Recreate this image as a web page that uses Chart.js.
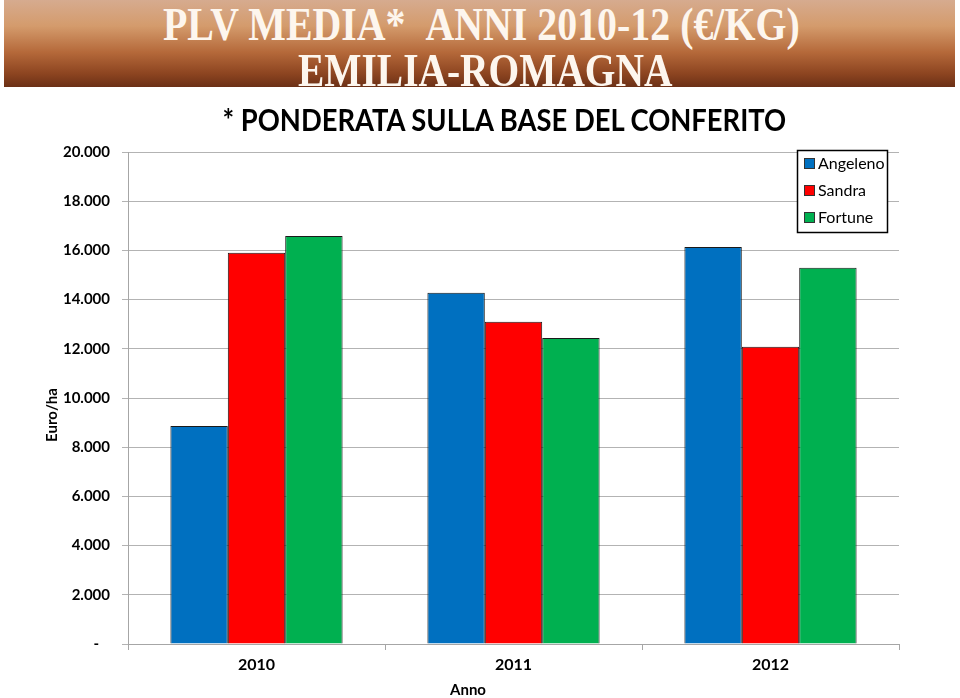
<!DOCTYPE html>
<html>
<head>
<meta charset="utf-8">
<script src="https://cdn.jsdelivr.net/npm/chart.js@4"></script>
<style>
  html, body { margin: 0; padding: 0; background: #fff; }
  #wrap { position: relative; width: 960px; height: 698px; overflow: hidden; }
  #plv-chart { position: absolute; left: 0; top: 0; }
  #banner {
    position: absolute; left: 4px; top: 0; width: 951px; height: 87px;
    background: linear-gradient(to bottom, #d6ab8f 0%, #d49b6c 30%, #b5693a 60%, #8c4420 85%, #6b3016 100%);
  }
  .fit { position: absolute; white-space: nowrap; transform-origin: center center; }
  .banner-line {
    font-family: "Liberation Serif", "DejaVu Serif", serif; font-weight: bold;
    font-size: 47px; color: #fdf6ee; line-height: 47px;
  }
  #subtitle {
    font-family: Lato, "Open Sans", sans-serif; font-weight: bold;
    font-size: 31px; color: #000; line-height: 32px;
  }
</style>
</head>
<body>
<div id="wrap">
  <canvas id="plv-chart" width="960" height="698"></canvas>
  <div id="banner"></div>
  <div class="fit banner-line" id="line1" data-cx="481" data-cy="24" data-w="637">PLV MEDIA*&nbsp;&nbsp;ANNI 2010-12 (€/KG)</div>
  <div class="fit banner-line" id="line2" data-cx="485" data-cy="70" data-w="374">EMILIA-ROMAGNA</div>
  <div class="fit" id="subtitle" data-cx="504" data-cy="119" data-w="564">* PONDERATA SULLA BASE DEL CONFERITO</div>
</div>
<script>
// Data
const years = ["2010", "2011", "2012"];
const seriesNames = ["Angeleno", "Sandra", "Fortune"];
const angeleno = [8860, 14280, 16140];
const sandra = [15900, 13100, 12080];
const fortune = [16590, 12440, 15290];
const seriesColors = ["#0070C0", "#FF0000", "#00B050"];
const xTitle = "Anno";
const yTitle = "Euro/ha";

const FONT = "Lato, 'Open Sans', sans-serif";

// Fit the banner texts to their width
document.querySelectorAll(".fit").forEach(el => {
    const w = el.offsetWidth, h = el.offsetHeight;
    const sx = Number(el.dataset.w) / w;
    el.style.left = (Number(el.dataset.cx) - w / 2) + "px";
    el.style.top = (Number(el.dataset.cy) - h / 2) + "px";
    el.style.transform = "scaleX(" + sx + ")";
});

// format like 20.000, zero as "-"
function formatTick(value) {
    if (value === 0) return "-   ";
    return String(value).replace(/\B(?=(\d{3})+(?!\d))/g, ".");
}

// Legend drawn inside the plot area, with a frame
const boxLegend = {
    id: "boxLegend",
    afterDraw(chart) {
        const ctx = chart.ctx;
        const x = 797, y = 150, w = 90, h = 82;
        ctx.save();
        ctx.fillStyle = "#fff";
        ctx.fillRect(x, y, w, h);
        ctx.strokeStyle = "#000";
        ctx.lineWidth = 1.5;
        ctx.strokeRect(x + 0.5, y + 0.5, w, h);
        ctx.font = "16px " + FONT;
        ctx.textBaseline = "middle";
        chart.data.datasets.forEach((ds, i) => {
            const cy = 164 + i * 27;
            ctx.fillStyle = ds.backgroundColor;
            ctx.fillRect(804, cy - 6, 11, 11);
            ctx.strokeStyle = "#333";
            ctx.lineWidth = 1;
            ctx.strokeRect(804.5, cy - 5.5, 10, 10);
            ctx.fillStyle = "#000";
            ctx.fillText(ds.label, 818, cy);
        });
        ctx.restore();
    }
};

// Axis titles sit a little off-centre in the original
const axisTitles = {
    id: "axisTitles",
    afterDraw(chart) {
        const ctx = chart.ctx;
        ctx.save();
        ctx.fillStyle = "#000";
        ctx.font = "bold 15px " + FONT;
        ctx.textAlign = "center";
        ctx.textBaseline = "middle";
        ctx.fillText(xTitle, 468, 690);
        ctx.translate(52, 415);
        ctx.rotate(-Math.PI / 2);
        ctx.fillText(yTitle, 0, 0);
        ctx.restore();
    }
};

new Chart("plv-chart", {
    type: "bar",
    data: {
        labels: years,
        datasets: [
            { label: seriesNames[0], data: angeleno, backgroundColor: seriesColors[0] },
            { label: seriesNames[1], data: sandra, backgroundColor: seriesColors[1] },
            { label: seriesNames[2], data: fortune, backgroundColor: seriesColors[2] }
        ].map(ds => Object.assign(ds, {
            borderColor: "#1a1a1a",
            borderWidth: 1,
            categoryPercentage: 0.67,
            barPercentage: 1.0
        }))
    },
    options: {
        responsive: false,
        animation: false,
        layout: { padding: { top: 152, right: 61, left: 0, bottom: 0 } },
        plugins: {
            legend: { display: false },
            tooltip: { enabled: false }
        },
        scales: {
            x: {
                afterFit: scale => { scale.height = 54; },
                grid: { drawOnChartArea: false, color: "#a6a6a6", tickLength: 6 },
                border: { color: "#a6a6a6" },
                ticks: {
                    color: "#000",
                    padding: 5,
                    font: { family: FONT, size: 16, weight: "bold" }
                }
            },
            y: {
                min: 0,
                max: 20000,
                afterFit: scale => { scale.width = 128; },
                grid: { color: "#b3b3b3", tickLength: 6 },
                border: { color: "#a6a6a6" },
                ticks: {
                    stepSize: 2000,
                    color: "#000",
                    padding: 12,
                    callback: formatTick,
                    font: { family: FONT, size: 15, weight: "bold" }
                }
            }
        }
    },
    plugins: [boxLegend, axisTitles]
});
</script>
</body>
</html>
